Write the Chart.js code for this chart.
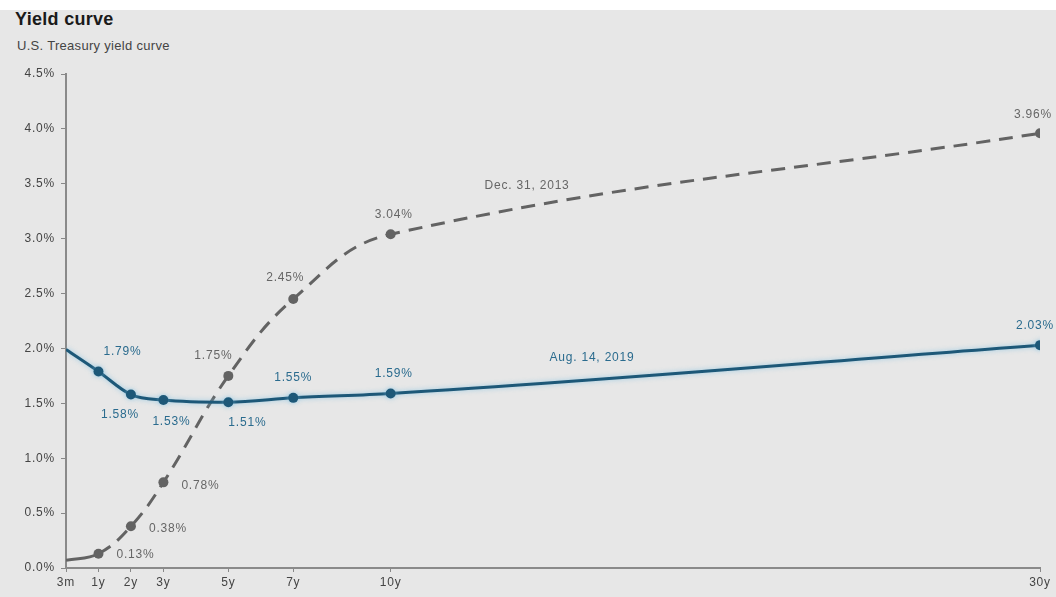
<!DOCTYPE html>
<html>
<head>
<meta charset="utf-8">
<script src="https://cdn.jsdelivr.net/npm/chart.js@4.4.0/dist/chart.umd.min.js"></script>
<style>
  html, body { margin: 0; padding: 0; background: #fff; }
  #wrap { position: absolute; left: 0; top: 0; width: 1056px; height: 597px; overflow: hidden; }
  #bg { position: absolute; left: 0; top: 10px; width: 1056px; height: 587px; background: #e7e7e7; }
  #title { position: absolute; left: 15px; top: 9px; font: bold 18px "Liberation Sans", Arial, sans-serif; color: #1a1a1a; letter-spacing: 0.3px; }
  #subtitle { position: absolute; left: 17px; top: 38px; font: 13px "Liberation Sans", Arial, sans-serif; color: #444; letter-spacing: 0.3px; }
  #chart { position: absolute; left: 0; top: 0; }
</style>
</head>
<body>
<div id="wrap">
  <div id="bg"></div>
  <div id="title">Yield curve</div>
  <div id="subtitle">U.S. Treasury yield curve</div>
  <canvas id="chart" width="1056" height="597"></canvas>
</div>
<script>
// Kỳ hạn (năm) và nhãn trục x
const maturities = [0, 1, 2, 3, 5, 7, 10, 30];
const maturityLabels = ['3m', '1y', '2y', '3y', '5y', '7y', '10y', '30y'];
// Lợi suất (%)
const yields2019 = [1.99, 1.79, 1.58, 1.53, 1.51, 1.55, 1.59, 2.03];
const yields2013 = [0.07, 0.13, 0.38, 0.78, 1.75, 2.45, 3.04, 3.96];
const yTicks = [0, 0.5, 1, 1.5, 2, 2.5, 3, 3.5, 4, 4.5];

// Vị trí nhãn giá trị (dx, dy so với điểm) - null = không vẽ
const labelOffsets2019 = [null, [24, -20], [-11, 20], [8, 22], [19, 20], [0, -20], [3, -20], [-5, -19]];
const labelOffsets2013 = [null, [37, 1], [37, 2], [37, 3], [-15, -20], [-8, -21], [3, -20], [-7, -19]];

const blue = '#1d5878';
const gray = '#636363';

const toPoints = (ys) => maturities.map((x, i) => ({ x: x, y: ys[i] }));

// Giãn chữ nhẹ cho giống bản gốc
const spacingPlugin = {
    id: 'spacing',
    beforeDraw(chart) { chart.ctx.letterSpacing = '0.8px'; }
};

// Plugin vẽ nhãn giá trị và tên series
const labelPlugin = {
    id: 'valueLabels',
    afterDatasetsDraw(chart) {
        const ctx = chart.ctx;
        ctx.save();
        ctx.letterSpacing = '0.8px';
        ctx.textAlign = 'center';
        ctx.textBaseline = 'middle';
        ctx.font = '12px "Liberation Sans", Arial, sans-serif';
        const sets = [
            { idx: 0, vals: yields2019, offs: labelOffsets2019, color: '#2a6b8e' },
            { idx: 1, vals: yields2013, offs: labelOffsets2013, color: '#666' }
        ];
        sets.forEach(s => {
            const meta = chart.getDatasetMeta(s.idx);
            ctx.fillStyle = s.color;
            meta.data.forEach((pt, i) => {
                const o = s.offs[i];
                if (!o) return;
                ctx.fillText(s.vals[i].toFixed(2) + '%', pt.x + o[0], pt.y + o[1]);
            });
        });
        // Tên series
        const xs = chart.scales.x, ys = chart.scales.y;
        ctx.fillStyle = '#2a6b8e';
        ctx.fillText('Aug. 14, 2019', xs.getPixelForValue(16.2), ys.getPixelForValue(1.92));
        ctx.fillStyle = '#666';
        ctx.fillText('Dec. 31, 2013', xs.getPixelForValue(14.2), ys.getPixelForValue(3.48));
        ctx.restore();
    }
};

// Bóng mờ xanh nhạt cho đường 2019
const glowPlugin = {
    id: 'glow',
    beforeDatasetDraw(chart, args) {
        if (args.index === 0) {
            chart.ctx.save();
            chart.ctx.shadowColor = 'rgba(120, 190, 225, 0.7)';
            chart.ctx.shadowBlur = 5;
        }
    },
    afterDatasetDraw(chart, args) {
        if (args.index === 0) chart.ctx.restore();
    }
};

const tickFont = { family: '"Liberation Sans", Arial, sans-serif', size: 12 };

new Chart(document.getElementById('chart').getContext('2d'), {
    type: 'line',
    data: {
        datasets: [{
            label: 'Aug. 14, 2019',
            data: toPoints(yields2019),
            borderColor: blue,
            backgroundColor: blue,
            borderWidth: 3,
            cubicInterpolationMode: 'monotone',
            pointRadius: maturities.map((m, i) => i === 0 ? 0 : 5),
            pointBackgroundColor: blue,
            pointBorderWidth: 0
        }, {
            label: 'Dec. 31, 2013',
            data: toPoints(yields2013),
            borderColor: gray,
            backgroundColor: gray,
            borderWidth: 3,
            tension: 0.4,
            segment: {
                borderDash: c => c.p0DataIndex === 0 ? [] : [14, 9]
            },
            pointRadius: maturities.map((m, i) => i === 0 ? 0 : 5),
            pointBackgroundColor: gray,
            pointBorderWidth: 0
        }]
    },
    options: {
        responsive: false,
        animation: false,
        layout: { padding: { left: 0, right: 16, top: 74, bottom: 0 } },
        plugins: {
            legend: { display: false },
            tooltip: { enabled: false }
        },
        scales: {
            x: {
                type: 'linear',
                min: 0,
                max: 30,
                afterBuildTicks: axis => { axis.ticks = maturities.map(v => ({ value: v })); },
                afterFit: axis => { axis.height = 29; },
                ticks: {
                    autoSkip: false,
                    maxRotation: 0,
                    padding: 3,
                    color: '#444',
                    font: tickFont,
                    callback: v => maturityLabels[maturities.indexOf(v)]
                },
                grid: { drawOnChartArea: false, drawTicks: true, tickLength: 4, color: '#888' },
                border: { color: '#8a8a8a', width: 2 }
            },
            y: {
                min: 0,
                max: 4.5,
                afterBuildTicks: axis => { axis.ticks = yTicks.map(v => ({ value: v })); },
                afterFit: axis => { axis.width = 66; },
                ticks: {
                    padding: 6,
                    color: '#444',
                    font: tickFont,
                    callback: v => v.toFixed(1) + '%'
                },
                grid: { drawOnChartArea: false, drawTicks: true, tickLength: 5, color: '#888' },
                border: { color: '#8a8a8a', width: 2 }
            }
        }
    },
    plugins: [spacingPlugin, glowPlugin, labelPlugin]
});
</script>
</body>
</html>
